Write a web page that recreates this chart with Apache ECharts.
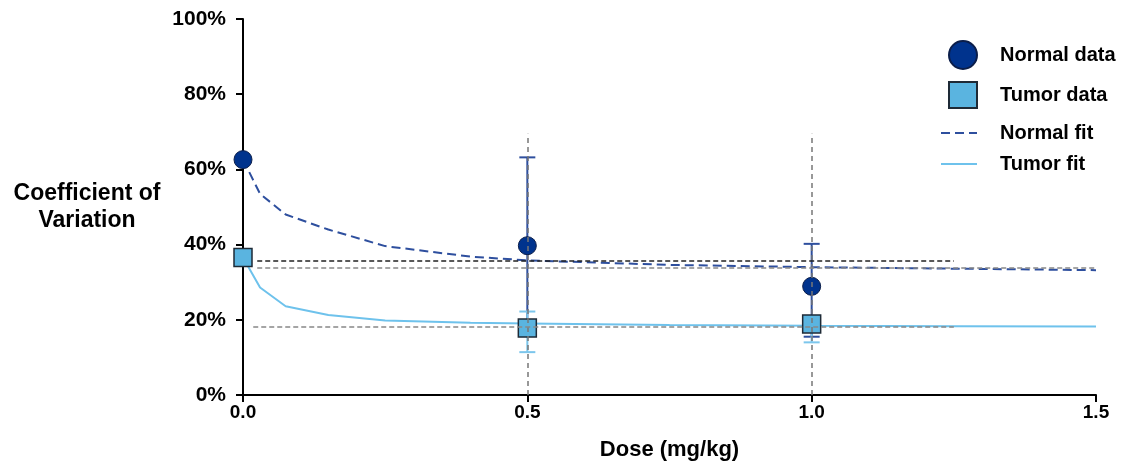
<!DOCTYPE html>
<html lang="en">
<head>
    <meta charset="UTF-8"/>
    <title>Coefficient of Variation vs Dose</title>
    <script src="https://cdn.jsdelivr.net/npm/echarts@6/dist/echarts.min.js"></script>
    <style>
        html, body { margin: 0; padding: 0; background: #fff; }
        #chart { width: 1128px; height: 470px; }
    </style>
</head>
<body>
<div id="chart"></div>
<script type="text/javascript">
    // measured points
    var doses = [0, 0.5, 1.0];
    var normalCV = [62.6, 39.7, 28.9];
    var tumorCV = [36.6, 17.8, 18.9];

    // error bars [dose, low, high]
    var normalErr = [[0.5, 15.8, 63.2], [1.0, 15.5, 40.2]];
    var tumorErr = [[0.5, 11.4, 22.2], [1.0, 14.0, 21.0]];

    // fitted curves
    var fitDose = [0, 0.03, 0.075, 0.15, 0.25, 0.4, 0.5, 0.75, 1.0, 1.25, 1.5];
    var normalFit = [62.6, 53.5, 48.0, 44.0, 39.6, 36.8, 35.8, 34.6, 34.0, 33.6, 33.2];
    var tumorFit = [36.6, 28.6, 23.6, 21.3, 19.8, 19.2, 19.0, 18.6, 18.4, 18.3, 18.2];

    // reference lines
    var vLines = [0.5, 1.0];
    var vLineTop = 69.5;
    var hLines = [
        {y: 35.8, from: 0.025, to: 1.25, color: '#222'},
        {y: 33.8, from: 0.025, to: 1.5, color: '#888'},
        {y: 18.2, from: 0.018, to: 1.25, color: '#888'}
    ];

    function zip(xs, ys) {
        return xs.map(function (x, i) { return [x, ys[i]]; });
    }

    function errBar(color) {
        return function (params, api) {
            var x = api.value(0);
            var lo = api.coord([x, api.value(1)]);
            var hi = api.coord([x, api.value(2)]);
            var w = 8;
            var st = {stroke: color, lineWidth: 2};
            return {
                type: 'group',
                children: [
                    {type: 'line', shape: {x1: lo[0], y1: lo[1], x2: hi[0], y2: hi[1]}, style: st},
                    {type: 'line', shape: {x1: hi[0] - w, y1: hi[1], x2: hi[0] + w, y2: hi[1]}, style: st},
                    {type: 'line', shape: {x1: lo[0] - w, y1: lo[1], x2: lo[0] + w, y2: lo[1]}, style: st}
                ]
            };
        };
    }

    var refLines = [];
    vLines.forEach(function (x) {
        refLines.push([
            {coord: [x, 0], lineStyle: {color: '#777', type: [5, 4], width: 1.5}},
            {coord: [x, vLineTop]}
        ]);
    });
    hLines.forEach(function (h) {
        refLines.push([
            {coord: [h.from, h.y], lineStyle: {color: h.color, type: [5, 3], width: 1.5}},
            {coord: [h.to, h.y]}
        ]);
    });

    var font = 'Liberation Sans, Arial, sans-serif';

    function legendItem(name, top, left, w, h, pad, hideSymbol) {
        var lg = {
            data: [name],
            top: top,
            left: left,
            itemWidth: w,
            itemHeight: h,
            selectedMode: false,
            textStyle: {
                fontFamily: font, fontWeight: 'bold', fontSize: 20, color: '#000',
                padding: [0, 0, 0, pad]
            }
        };
        // line series draw a dot in their legend icon, hide it
        if (hideSymbol) lg.itemStyle = {opacity: 0};
        return lg;
    }

    var myChart = echarts.init(document.getElementById('chart'));
    var option = {
        animation: false,
        grid: {left: 243, right: 32, top: 19, bottom: 75},
        legend: [
            legendItem('Normal data', 35, 943, 28, 28, 18, false),
            legendItem('Tumor data', 76, 943, 28, 26, 18, false),
            legendItem('Normal fit', 118, 935, 36, 20, 18, true),
            legendItem('Tumor fit', 149, 935, 36, 20, 18, true)
        ],
        xAxis: {
            type: 'value',
            min: 0,
            max: 1.5,
            interval: 0.5,
            name: 'Dose (mg/kg)',
            nameLocation: 'middle',
            nameGap: 44,
            nameTextStyle: {fontFamily: font, fontWeight: 'bold', fontSize: 22, color: '#000'},
            axisLine: {lineStyle: {color: '#000', width: 2}},
            axisTick: {show: true, length: 7, lineStyle: {color: '#000', width: 2}},
            axisLabel: {
                margin: 8,
                fontFamily: font, fontWeight: 'bold', fontSize: 19, color: '#000',
                formatter: function (v) { return v.toFixed(1); }
            },
            splitLine: {show: false}
        },
        yAxis: {
            type: 'value',
            min: 0,
            max: 100,
            interval: 20,
            name: 'Coefficient of\nVariation',
            nameLocation: 'middle',
            nameRotate: 0,
            nameGap: 156,
            nameTextStyle: {
                fontFamily: font, fontWeight: 'bold', fontSize: 23, color: '#000',
                align: 'center', lineHeight: 27, padding: [5, 0, 0, 0]
            },
            axisLine: {show: true, lineStyle: {color: '#000', width: 2}},
            axisTick: {show: true, length: 7, lineStyle: {color: '#000', width: 2}},
            axisLabel: {
                margin: 17,
                fontFamily: font, fontWeight: 'bold', fontSize: 21, color: '#000',
                formatter: '{value}%'
            },
            splitLine: {show: false}
        },
        series: [
            {
                name: 'ref',
                type: 'line',
                data: [],
                silent: true,
                markLine: {
                    silent: true,
                    symbol: ['none', 'none'],
                    label: {show: false},
                    data: refLines
                },
                z: 1
            },
            {
                name: 'Normal error',
                type: 'custom',
                renderItem: errBar('#2E4F9E'),
                encode: {x: 0, y: [1, 2]},
                data: normalErr,
                silent: true,
                z: 2
            },
            {
                name: 'Tumor error',
                type: 'custom',
                renderItem: errBar('#7CC6EC'),
                encode: {x: 0, y: [1, 2]},
                data: tumorErr,
                silent: true,
                z: 2
            },
            {
                name: 'Normal fit',
                type: 'line',
                data: zip(fitDose, normalFit),
                symbol: 'none',
                lineStyle: {color: '#2E4F9E', width: 2, type: [9, 5]},
                itemStyle: {color: '#2E4F9E'},
                z: 3
            },
            {
                name: 'Tumor fit',
                type: 'line',
                data: zip(fitDose, tumorFit),
                symbol: 'none',
                lineStyle: {color: '#6EC2EC', width: 2},
                itemStyle: {color: '#6EC2EC'},
                z: 3
            },
            {
                name: 'Normal data',
                type: 'scatter',
                data: zip(doses, normalCV),
                symbol: 'circle',
                symbolSize: 18,
                itemStyle: {color: '#00338D', borderColor: '#0B1E4A', borderWidth: 1, opacity: 1},
                z: 4
            },
            {
                name: 'Tumor data',
                type: 'scatter',
                data: zip(doses, tumorCV),
                symbol: 'rect',
                symbolSize: 18,
                itemStyle: {color: '#5AB4E0', borderColor: '#1E2A36', borderWidth: 1.5, opacity: 1},
                z: 4
            }
        ]
    };
    myChart.setOption(option);
</script>
</body>
</html>
